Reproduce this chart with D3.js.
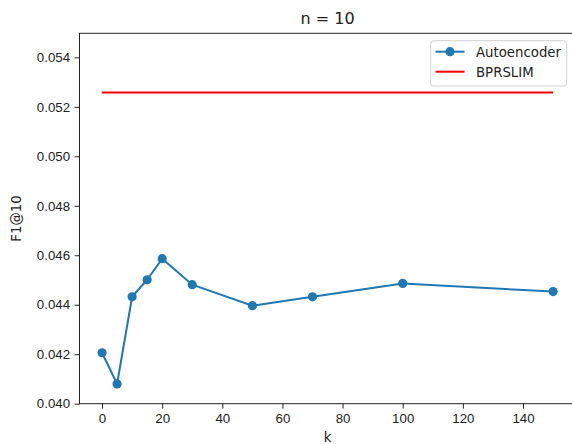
<!DOCTYPE html>
<html>
<head>
<meta charset="utf-8">
<script src="https://cdn.jsdelivr.net/npm/d3@7"></script>
<style>
  body { margin: 0; background: #fff; }
  svg { display: block; font-family: "DejaVu Sans", sans-serif; }
</style>
</head>
<body>
<script>
const kValues = [0, 5, 10, 15, 20, 30, 50, 70, 100, 150];
const autoencoderF1 = [0.04206, 0.0408, 0.04432, 0.04501, 0.04586, 0.04481, 0.04396, 0.04432, 0.04486, 0.04453];
const bprslimF1 = 0.05258;
const xTicks = [0, 20, 40, 60, 80, 100, 120, 140];
const yTicks = [0.040, 0.042, 0.044, 0.046, 0.048, 0.050, 0.052, 0.054];

const width = 572;
const height = 444;
const plotLeft = 79.5, plotRight = 575.6, plotTop = 33.3, plotBottom = 403.7;

const svg = d3.select("body").append("svg")
  .attr("width", width)
  .attr("height", height);

const xScale = d3.scaleLinear().domain([-7.5, 157.5]).range([plotLeft, plotRight]);
const yScale = d3.scaleLinear().domain([0.040, 0.05497]).range([plotBottom, plotTop]);

// axes
const xAxis = d3.axisBottom(xScale).tickValues(xTicks).tickSize(4.9).tickPadding(4.5).tickFormat(d3.format("d"));
const yAxis = d3.axisLeft(yScale).tickValues(yTicks).tickSize(4.9).tickPadding(4.5).tickFormat(d3.format(".3f"));

const gx = svg.append("g").attr("transform", `translate(0, ${plotBottom})`).call(xAxis);
const gy = svg.append("g").attr("transform", `translate(${plotLeft}, 0)`).call(yAxis);

[gx, gy].forEach((g) => {
  g.select(".domain").remove();
  g.selectAll(".tick line").attr("stroke", "#222").attr("stroke-width", 1);
  g.selectAll(".tick text").attr("fill", "#222").style("font-size", "13.3px");
});

// spines
svg.append("rect")
  .attr("x", plotLeft)
  .attr("y", plotTop)
  .attr("width", plotRight - plotLeft)
  .attr("height", plotBottom - plotTop)
  .attr("fill", "none")
  .attr("stroke", "#222")
  .attr("stroke-width", 1);

// BPRSLIM line
svg.append("line")
  .attr("x1", xScale(kValues[0]))
  .attr("x2", xScale(kValues[kValues.length - 1]))
  .attr("y1", yScale(bprslimF1))
  .attr("y2", yScale(bprslimF1))
  .attr("stroke", "#ff0000")
  .attr("stroke-width", 2);

// Autoencoder line
const points = kValues.map((k, i) => ({ k: k, v: autoencoderF1[i] }));
const line = d3.line().x((d) => xScale(d.k)).y((d) => yScale(d.v));

svg.append("path")
  .datum(points)
  .attr("d", line)
  .attr("fill", "none")
  .attr("stroke", "#1f77b4")
  .attr("stroke-width", 2);

svg.selectAll("circle.pt")
  .data(points)
  .enter()
  .append("circle")
  .attr("class", "pt")
  .attr("cx", (d) => xScale(d.k))
  .attr("cy", (d) => yScale(d.v))
  .attr("r", 4.6)
  .attr("fill", "#1f77b4");

// title + labels
svg.append("text")
  .attr("x", (plotLeft + plotRight) / 2)
  .attr("y", 24)
  .attr("text-anchor", "middle")
  .style("font-size", "16px")
  .attr("fill", "#222")
  .text("n = 10");

svg.append("text")
  .attr("x", (plotLeft + plotRight) / 2)
  .attr("y", 442)
  .attr("text-anchor", "middle")
  .style("font-size", "13.3px")
  .attr("fill", "#222")
  .text("k");

svg.append("text")
  .attr("transform", `translate(21, ${(plotTop + plotBottom) / 2}) rotate(-90)`)
  .attr("text-anchor", "middle")
  .style("font-size", "13.3px")
  .attr("fill", "#222")
  .text("F1@10");

// legend
const legend = svg.append("g");
legend.append("rect")
  .attr("x", 430.7)
  .attr("y", 40.7)
  .attr("width", 136)
  .attr("height", 45.3)
  .attr("rx", 3)
  .attr("fill", "#fff")
  .attr("fill-opacity", 0.8)
  .attr("stroke", "#d0d0d0")
  .attr("stroke-width", 1);

const legendItems = [
  { name: "Autoencoder", color: "#1f77b4", marker: true },
  { name: "BPRSLIM", color: "#ff0000", marker: false },
];

legendItems.forEach((item, i) => {
  const y = 51.7 + i * 20;
  legend.append("line")
    .attr("x1", 435.5).attr("x2", 464.5)
    .attr("y1", y).attr("y2", y)
    .attr("stroke", item.color)
    .attr("stroke-width", 2);
  if (item.marker) {
    legend.append("circle")
      .attr("cx", 450).attr("cy", y)
      .attr("r", 4.6)
      .attr("fill", item.color);
  }
  legend.append("text")
    .attr("x", 476)
    .attr("y", y + 4.8)
    .style("font-size", "13.3px")
    .attr("fill", "#222")
    .text(item.name);
});
</script>
</body>
</html>
